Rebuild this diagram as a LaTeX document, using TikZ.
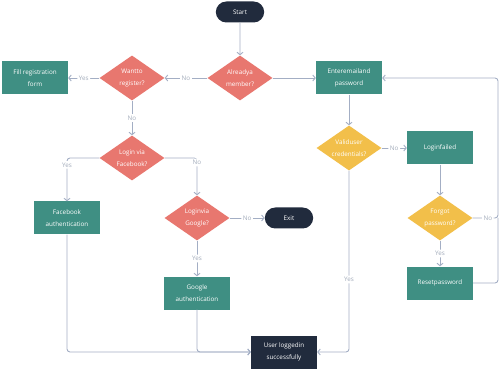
\documentclass[tikz,border=0pt]{standalone}
\usepackage{fontspec}
\setmainfont{Open Sans}
\usetikzlibrary{shapes.geometric,shapes.misc,arrows.meta}
\definecolor{navy}{HTML}{212B3D}
\definecolor{salmon}{HTML}{E8776F}
\definecolor{tealc}{HTML}{3F8F83}
\definecolor{mustard}{HTML}{F2BF4A}
\definecolor{wirec}{HTML}{A3AEC4}
\definecolor{lblc}{HTML}{A3ACBB}
\begin{document}
\begin{tikzpicture}[x=1pt,y=-1pt,font=\fontsize{6.3}{11.5}\selectfont,
    proc/.style={rectangle,fill=tealc,text=white,minimum width=66pt,minimum height=33pt,align=center,inner sep=1pt},
    decide/.style={diamond,fill=salmon,text=white,minimum width=65pt,minimum height=45pt,aspect=1.44,align=center,inner sep=-1pt},
    ask/.style={decide,fill=mustard},
    term/.style={rounded rectangle,fill=navy,text=white,minimum width=55pt,minimum height=21pt},
    wire/.style={draw=wirec,line width=0.9pt,rounded corners=3pt,-{Straight Barb[length=2.5pt,width=6pt]}},
    tag/.style={fill=white,text=lblc,inner sep=1.5pt} ]
    \useasboundingbox (0,0) rectangle (500,371);
    \node at (240,12) [term] (start) {Start};
    \node at (240,78) [decide] (member) {Alreadya\\member?};
    \node at (132,78) [decide] (register) {Wantto\\register?};
    \node at (35,78) [proc] (fill) {Fill registration\\form};
    \node at (349,78) [proc] (email) {Enteremailand\\password};
    \node at (349,148) [ask] (valid) {Validuser\\credentials?};
    \node at (440,148) [proc] (failed) {Loginfailed};
    \node at (440,218) [ask] (forgot) {Forgot\\password?};
    \node at (440,283) [proc] (reset) {Resetpassword};
    \node at (132,158) [decide] (facebook) {Login via\\Facebook?};
    \node at (67,218) [proc] (fbauth) {Facebook\\authentication};
    \node at (197,218) [decide] (google) {Loginvia\\Google?};
    \node at (289,218) [term] (exit) {Exit};
    \node at (197,293) [proc] (gauth) {Google\\authentication};
    \node at (284,352) [proc,fill=navy] (done) {User loggedin\\successfully};
    \coordinate (rail) at (498,78);
    % top row
    \draw [wire] (start) to (member);
    \draw [wire] (member.west) to node [tag] {No} (register.east);
    \draw [wire] (register.west) to node [tag] {Yes} (fill.east);
    \draw [wire] (member.east) to (email.west);
    \draw [wire] (register.south) to node [tag] {No} (facebook.north);
    % right column
    \draw [wire] (email.south) to (valid.north);
    \draw [wire] (valid.east) to node [tag] {No} (failed.west);
    \draw [wire] (failed.south) to (forgot.north);
    \draw [wire] (forgot.south) to node [tag] {Yes} (reset.north);
    \draw [wire] (forgot.east) -- node [tag,pos=0.6] {No} (forgot.east -| rail) -- (rail) -- (email.east);
    \draw [wire,-] (reset.east) -| (forgot.east -| rail);
    \draw [wire] (valid.south) |- node [tag,pos=0.3] {Yes} (done.east);
    % left branch
    \draw [wire] (facebook.west) -| node [tag,pos=0.58] {Yes} (fbauth.north);
    \draw [wire] (facebook.east) -| node [tag,pos=0.56] {No} (google.north);
    \draw [wire] (google.east) to node [tag] {No} (exit.west);
    \draw [wire] (google.south) to node [tag] {Yes} (gauth.north);
    \draw [wire] (fbauth.south) |- (done.west);
    \draw [wire] (gauth.south) |- (done.west);
\end{tikzpicture}
\end{document}
